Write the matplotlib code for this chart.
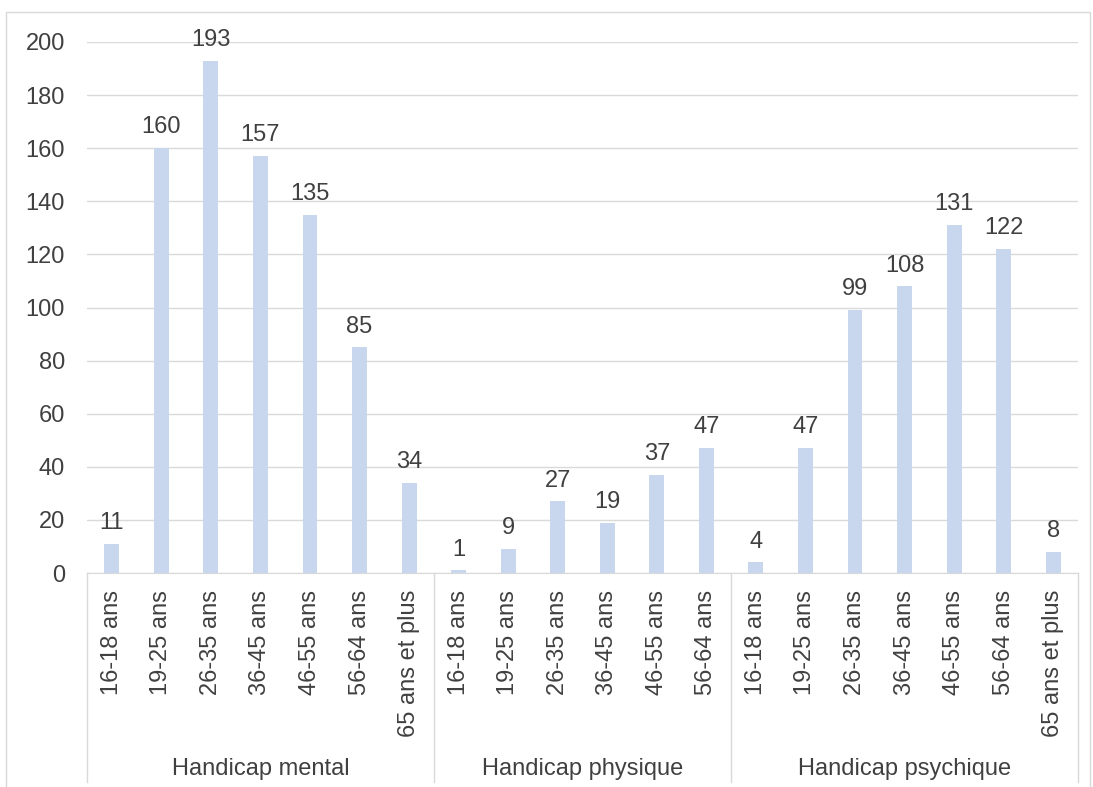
import matplotlib.pyplot as plt
import matplotlib.patches as mpatches
import numpy as np

plt.rcParams['font.family'] = ['Liberation Sans', 'DejaVu Sans']

groups = ["Handicap mental", "Handicap physique", "Handicap psychique"]
ages_mental = ["16-18 ans", "19-25 ans", "26-35 ans", "36-45 ans", "46-55 ans", "56-64 ans", "65 ans et plus"]
ages_physique = ["16-18 ans", "19-25 ans", "26-35 ans", "36-45 ans", "46-55 ans", "56-64 ans"]
ages_psychique = ["16-18 ans", "19-25 ans", "26-35 ans", "36-45 ans", "46-55 ans", "56-64 ans", "65 ans et plus"]
val_mental = [11, 160, 193, 157, 135, 85, 34]
val_physique = [1, 9, 27, 19, 37, 47]
val_psychique = [4, 47, 99, 108, 131, 122, 8]

labels = ages_mental + ages_physique + ages_psychique
values = val_mental + val_physique + val_psychique
sizes = [len(ages_mental), len(ages_physique), len(ages_psychique)]
x = np.arange(len(values))

W, H = 1093, 787
fig = plt.figure(figsize=(W / 100, H / 100), dpi=100)
ax = fig.add_axes([87 / W, 1 - 573 / H, (1078 - 87) / W, 531 / H])

txt = '#404040'
grid = '#D9D9D9'
fs = 17

# cadre exterieur
fig.patches.append(mpatches.Rectangle((6 / W, -0.02), 1084 / W, 1 - 12 / H + 0.02,
                                      transform=fig.transFigure, fill=False,
                                      edgecolor=grid, linewidth=1))

ax.bar(x, values, width=0.3, color='#C9D7EE', zorder=3)
for xi, v in zip(x, values):
    ax.annotate(str(v), (xi, v), xytext=(0, 7), textcoords='offset points',
                ha='center', va='bottom', fontsize=fs, color=txt, annotation_clip=False)

ax.set_xlim(-0.5, len(values) - 0.5)
ax.set_ylim(0, 200)
ax.set_yticks(range(0, 201, 20))
ax.tick_params(axis='y', length=0, labelsize=fs, labelcolor=txt, pad=16)
ax.yaxis.grid(True, color=grid, linewidth=1, zorder=0)
for s in ['top', 'right', 'left']:
    ax.spines[s].set_visible(False)
ax.spines['bottom'].set_color(grid)

ax.set_xticks(x)
ax.set_xticklabels(labels, rotation=90, fontsize=fs, color=txt)
ax.tick_params(axis='x', length=0, pad=12)

# separateurs des groupes et libelles
depth = -209 / 531
bounds = np.concatenate([[0], np.cumsum(sizes)]) - 0.5
for b in bounds:
    ax.plot([b, b], [0, depth], transform=ax.get_xaxis_transform(), color=grid,
            linewidth=1, clip_on=False)
for i, g in enumerate(groups):
    ax.text((bounds[i] + bounds[i + 1]) / 2, -196 / 531, g, transform=ax.get_xaxis_transform(),
            ha='center', va='center', fontsize=fs, color=txt)

fig.savefig('out.png', dpi=100)
